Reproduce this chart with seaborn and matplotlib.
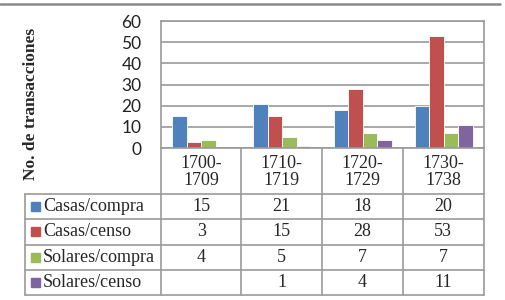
import matplotlib
matplotlib.use('Agg')
import matplotlib.pyplot as plt
import seaborn as sns
import pandas as pd
import numpy as np
from matplotlib.lines import Line2D
from matplotlib.patches import Rectangle

categories = ['1700-\n1709', '1710-\n1719', '1720-\n1729', '1730-\n1738']
series = ['Casas/compra', 'Casas/censo', 'Solares/compra', 'Solares/censo']
casas_compra = [15, 21, 18, 20]
casas_censo = [3, 15, 28, 53]
solares_compra = [4, 5, 7, 7]
solares_censo = [np.nan, 1, 4, 11]
colors = ['#4F81BD', '#C0504D', '#9BBB59', '#8064A2']
y_ticks = [0, 10, 20, 30, 40, 50, 60]
y_label = 'No. de transacciones'

sns.set_style('white')
plt.rcParams['font.family'] = ['Liberation Serif', 'DejaVu Serif']

W, H = 505, 300
fig = plt.figure(figsize=(W / 100, H / 100), dpi=100)
L, R, T, B = 161, 484, 21, 148
ax = fig.add_axes([L / W, 1 - B / H, (R - L) / W, (B - T) / H])

values = [casas_compra, casas_censo, solares_compra, solares_censo]
df = pd.DataFrame({
    'Periodo': [c for s in series for c in categories],
    'Serie': [s for s in series for _ in categories],
    'Valor': [v for vals in values for v in vals],
})
sns.barplot(data=df, x='Periodo', y='Valor', hue='Serie', order=categories,
            hue_order=series, palette=colors, width=0.72, gap=0, saturation=1,
            ax=ax, legend=False, errorbar=None, linewidth=0.6, edgecolor='white')

gc = '#9a9a9a'
ax.set_xlim(-0.5, 3.5)
ax.set_ylim(0, 60)
ax.set_yticks(y_ticks)
ax.set_yticklabels([str(t) for t in y_ticks], fontsize=12.5, family='Lato',
                   color='#222222')
ax.tick_params(axis='y', length=0, pad=14)
ax.set_xticks([])
ax.set_xlabel('')
ax.set_ylabel('')
ax.yaxis.grid(True, color=gc, lw=1.2)
ax.set_axisbelow(True)
for sp in ax.spines.values():
    sp.set_visible(True)
    sp.set_color(gc)
    sp.set_linewidth(1.2)


def fx(x):
    return x / W


def fy(y):
    return 1 - y / H


def hline(y, x0, x1, lw=1.2, color=gc):
    fig.add_artist(Line2D([fx(x0), fx(x1)], [fy(y), fy(y)], color=color, lw=lw,
                          transform=fig.transFigure))


def vline(x, y0, y1, lw=1.2, color=gc):
    fig.add_artist(Line2D([fx(x), fx(x)], [fy(y0), fy(y1)], color=color, lw=lw,
                          transform=fig.transFigure))


# top rule
hline(4, 0, 500, lw=1.8, color='#8a8a8a')

col_x = [161, 241.3, 322, 402.7, 484]
row_y = [194, 219.3, 244.5, 270, 295]

# table lines
for y in row_y:
    hline(y, 25, 484)
vline(25, 194, 295)
for x in col_x[1:-1]:
    vline(x, 148, 295)
vline(161, 148, 295)
vline(484, 148, 295)

fs = 13
# header
for i, cat in enumerate(categories):
    cx = (col_x[i] + col_x[i + 1]) / 2
    fig.text(fx(cx), fy(172), cat, ha='center', va='center', fontsize=fs,
             linespacing=1.0)

# rows
for r, (name, vals, col) in enumerate(zip(series, values, colors)):
    cy = (row_y[r] + row_y[r + 1]) / 2
    fig.add_artist(Rectangle((fx(31), fy(cy + 4.5)), 9 / W, 9 / H, color=col,
                             transform=fig.transFigure))
    fig.text(fx(43), fy(cy), name, ha='left', va='center', fontsize=fs)
    for i, v in enumerate(vals):
        if v is None or (isinstance(v, float) and np.isnan(v)):
            continue
        cx = (col_x[i] + col_x[i + 1]) / 2
        fig.text(fx(cx), fy(cy), str(int(v)), ha='center', va='center', fontsize=fs)

fig.text(fx(31), fy(104), y_label, rotation=90, ha='center', va='center',
         fontsize=12.5, fontweight='bold')

fig.savefig('out.png', dpi=100)
